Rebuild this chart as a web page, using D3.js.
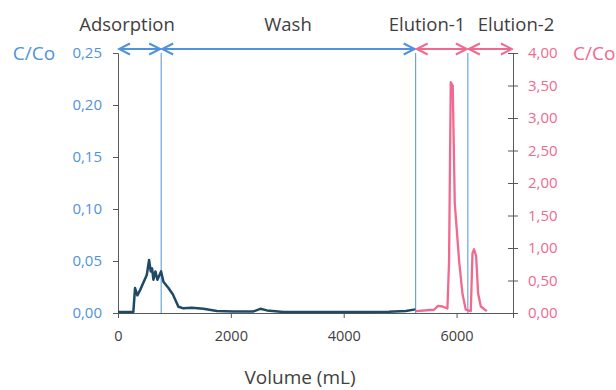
<!DOCTYPE html>
<html lang="en">
<head>
    <meta charset="UTF-8">
    <title>C/Co vs Volume</title>
    <script src="https://d3js.org/d3.v7.min.js"></script>
    <style>
        body { margin: 0; background: #fff; }
        text { font-family: "Open Sans", "Noto Sans", sans-serif; }
    </style>
</head>
<body>
    <div id="chart"></div>
    <script>
        // adsorption / wash effluent (left axis)
        var washVol = [0, 272, 302, 343, 391, 510, 551, 580, 604, 627, 663, 698, 764, 805, 894, 971, 1071, 1160, 1309, 1515, 1753, 2050, 2400, 2522, 2640, 2935, 3500, 4200, 4800, 5100, 5270];
        var washC = [0.001, 0.001, 0.024, 0.017, 0.022, 0.0365, 0.051, 0.040, 0.043, 0.032, 0.040, 0.032, 0.040, 0.030, 0.024, 0.018, 0.006, 0.0045, 0.005, 0.004, 0.002, 0.0015, 0.0015, 0.004, 0.0025, 0.001, 0.001, 0.001, 0.0012, 0.002, 0.0035];

        // elution (right axis)
        var eluVol = [5275, 5600, 5672, 5750, 5838, 5867, 5897, 5932, 5968, 6045, 6104, 6163, 6252, 6282, 6311, 6347, 6382, 6430, 6536];
        var eluC = [0.03, 0.05, 0.11, 0.10, 0.07, 0.8, 3.55, 3.5, 1.69, 0.8, 0.30, 0.05, 0.03, 0.92, 0.98, 0.87, 0.30, 0.10, 0.03];

        var phaseNames = ["Adsorption", "Wash", "Elution-1", "Elution-2"];
        var phaseBounds = [0, 765, 5275, 6200, 7000];
        var xTicks = [0, 2000, 4000, 6000];
        var leftTicks = [0, 0.05, 0.10, 0.15, 0.20, 0.25];
        var rightTicks = [0, 0.5, 1, 1.5, 2, 2.5, 3, 3.5, 4];

        var blue = "#4f93da", pink = "#f0698f", dark = "#1f4a66", axisCol = "#595959";
        var margin = { top: 53, right: 103, bottom: 77, left: 118 };
        var width = 616 - margin.left - margin.right;
        var height = 390 - margin.top - margin.bottom;

        var loc = d3.formatLocale({ decimal: ",", thousands: ".", grouping: [3], currency: ["", ""] });
        var f2 = loc.format(".2f");

        var svg = d3.select("#chart").append("svg")
            .attr("width", 616).attr("height", 390)
            .append("g")
            .attr("transform", "translate(" + margin.left + "," + margin.top + ")");

        var x = d3.scaleLinear().domain([0, 7000]).range([0, width]);
        var yL = d3.scaleLinear().domain([0, 0.25]).range([height, 0]);
        var yR = d3.scaleLinear().domain([0, 4]).range([height, 0]);

        // phase separators
        svg.selectAll(".sep").data(phaseBounds.slice(1, 4)).enter().append("line")
            .attr("x1", function (d) { return x(d); }).attr("x2", function (d) { return x(d); })
            .attr("y1", 0).attr("y2", height)
            .attr("stroke", blue).attr("stroke-width", 1);

        // axes
        var xAxis = svg.append("g").attr("transform", "translate(0," + height + ")")
            .call(d3.axisBottom(x).tickValues(xTicks).tickSize(5).tickPadding(13).tickFormat(d3.format("d")));
        xAxis.selectAll("text").attr("fill", "#404040").style("font-size", "14.5px");

        var lAxis = svg.append("g")
            .call(d3.axisLeft(yL).tickValues(leftTicks).tickSize(5).tickPadding(11).tickFormat(f2));
        lAxis.selectAll("text").attr("fill", blue).style("font-size", "15px");

        var rAxis = svg.append("g").attr("transform", "translate(" + width + ",0)")
            .call(d3.axisRight(yR).tickValues(rightTicks).tickSize(5).tickPadding(10).tickFormat(f2));
        rAxis.selectAll("text").attr("fill", pink).style("font-size", "15px");
        rAxis.selectAll(".tick line").attr("x1", -5);

        [xAxis, lAxis, rAxis].forEach(function (a) {
            a.selectAll(".domain").attr("stroke", axisCol);
            a.selectAll(".tick line").attr("stroke", axisCol);
        });

        // series
        var washData = washVol.map(function (v, i) { return [v, washC[i]]; });
        var eluData = eluVol.map(function (v, i) { return [v, eluC[i]]; });

        svg.append("path").datum(washData)
            .attr("fill", "none").attr("stroke", dark).attr("stroke-width", 2.5)
            .attr("stroke-linejoin", "round")
            .attr("d", d3.line().x(function (d) { return x(d[0]); }).y(function (d) { return yL(d[1]); }));

        svg.append("path").datum(eluData)
            .attr("fill", "none").attr("stroke", pink).attr("stroke-width", 2.3)
            .attr("stroke-linejoin", "round")
            .attr("d", d3.line().x(function (d) { return x(d[0]); }).y(function (d) { return yR(d[1]); }));

        // phase arrows + labels
        var defs = svg.append("defs");
        [["b", blue], ["p", pink]].forEach(function (m) {
            defs.append("marker").attr("id", "head-" + m[0])
                .attr("viewBox", "0 0 14 14").attr("refX", 12).attr("refY", 7)
                .attr("markerWidth", 14).attr("markerHeight", 14)
                .attr("markerUnits", "userSpaceOnUse").attr("orient", "auto-start-reverse")
                .append("path").attr("d", "M1,1.5 L12,7 L1,12.5").attr("fill", "none")
                .attr("stroke", m[1]).attr("stroke-width", 2);
        });

        var phases = phaseNames.map(function (n, i) { return { name: n, a: phaseBounds[i], b: phaseBounds[i + 1] }; });
        svg.selectAll(".arrow").data(phases).enter().append("line")
            .attr("x1", function (d) { return x(d.a) + 1; })
            .attr("x2", function (d) { return x(d.b) - 1; })
            .attr("y1", -4).attr("y2", -4)
            .attr("stroke", function (d, i) { return i < 2 ? blue : pink; })
            .attr("stroke-width", 2)
            .attr("marker-start", function (d, i) { return i < 2 ? "url(#head-b)" : "url(#head-p)"; })
            .attr("marker-end", function (d, i) { return i < 2 ? "url(#head-b)" : "url(#head-p)"; });

        var labelX = [127 - margin.left, 288 - margin.left, 427 - margin.left, 516 - margin.left];
        svg.selectAll(".plabel").data(phases).enter().append("text")
            .attr("x", function (d, i) { return labelX[i]; })
            .attr("y", -22)
            .attr("text-anchor", "middle")
            .attr("fill", "#404040")
            .style("font-size", "18.5px")
            .text(function (d) { return d.name; });

        // axis titles
        svg.append("text").attr("x", 34 - margin.left).attr("y", 7).attr("text-anchor", "middle")
            .attr("fill", blue).style("font-size", "19px").text("C/Co");
        svg.append("text").attr("x", 573 - margin.left).attr("y", 7).attr("text-anchor", "start")
            .attr("fill", pink).style("font-size", "19px").text("C/Co");
        svg.append("text").attr("x", 300 - margin.left).attr("y", height + 71).attr("text-anchor", "middle")
            .attr("fill", "#404040").style("font-size", "19px").text("Volume (mL)");
    </script>
</body>
</html>
